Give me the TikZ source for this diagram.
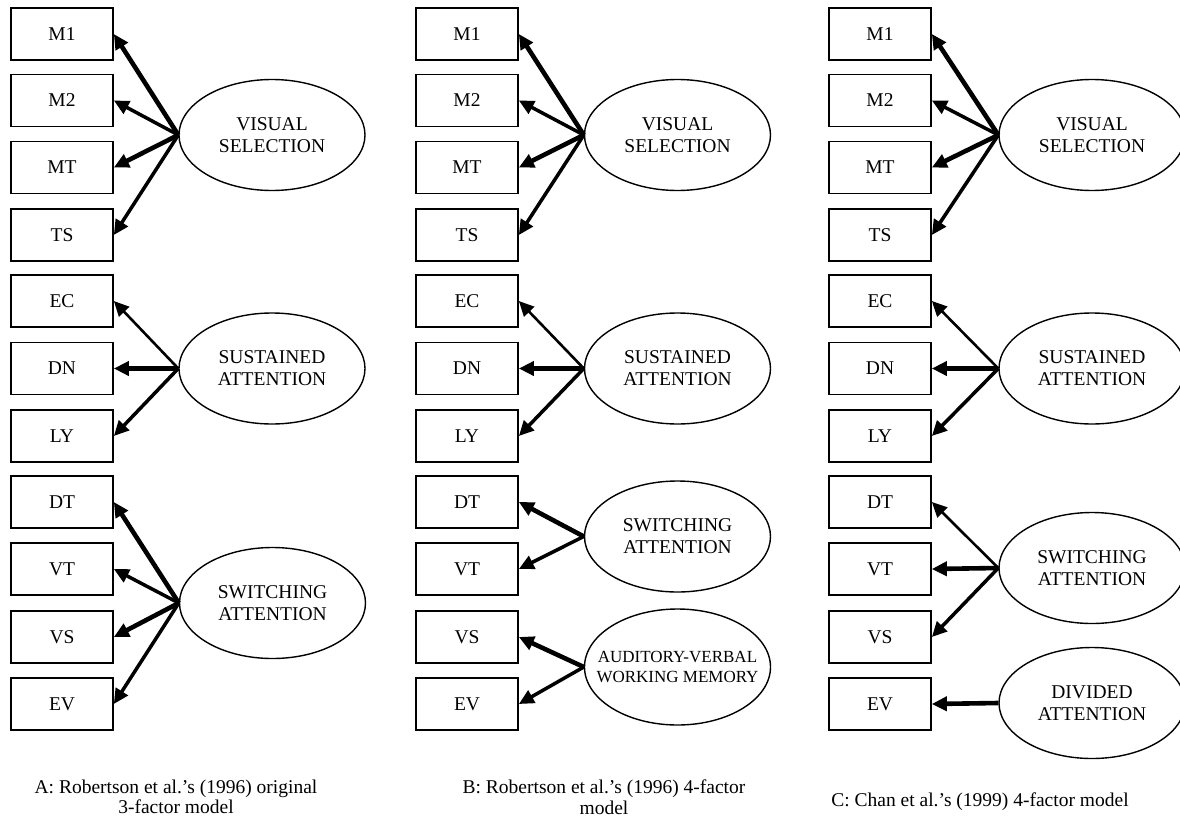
\documentclass[tikz,border=0pt]{standalone}
\usepackage{fontspec}
\setmainfont{Liberation Serif}
\usetikzlibrary{shapes.geometric,arrows.meta}
\begin{document}
\begin{tikzpicture}[x=1pt,y=-1pt,
  obs/.style={draw,line width=1.7pt,minimum width=102pt,minimum height=52pt,inner sep=0pt,
    font=\fontsize{19.5}{22}\selectfont},
  lat/.style={draw,ellipse,line width=1.4pt,minimum width=186pt,minimum height=111pt,inner sep=0pt},
  lattext/.style={align=center,inner sep=0pt,font=\fontsize{19.5}{22}\selectfont},
  smalltext/.style={align=center,inner sep=0pt,font=\fontsize{17}{20}\selectfont},
  captext/.style={align=center,inner sep=0pt,font=\fontsize{19.5}{20.5}\selectfont},
  ld/.style={-{Triangle[length=15pt,width=14pt]}},
  lthin/.style={ld,line width=2.6pt},
  lmid/.style={ld,line width=3.5pt},
  lthick/.style={ld,line width=4.6pt}]
\useasboundingbox (0,0) rectangle (1180,816);
% ---------- boxes ----------
\foreach \n/\t/\y in {m1/M1/34,m2/M2/100.5,mt/MT/167.5,ts/TS/235,ec/EC/301,dn/DN/368.5,ly/LY/436,dt/DT/502,vt/VT/569,vs/VS/637,ev/EV/704}{
  \node[obs] (a\n) at (62,\y) {\t};
  \node[obs] (b\n) at (467,\y) {\t};
  \node[obs] (c\n) at (880,\y) {\t};
}
% ---------- Panel A ----------
\node[lat] (avis) at (272,135) {};
\node[lattext] (avist) at (avis) {VISUAL\\SELECTION};
\node[lat] (asus) at (272,368.5) {};
\node[lattext] (asust) at (asus) {SUSTAINED\\ATTENTION};
\node[lat] (asw) at (272.5,603) {};
\node[lattext] (aswt) at (asw) {SWITCHING\\ATTENTION};
\draw[lthick] (avis.west) -- (am1.east);
\draw[lmid] (avis.west) -- (am2.east);
\draw[lthick] (avis.west) -- (amt.east);
\draw[lmid] (avis.west) -- (ats.east);
\draw[lthin] (asus.west) -- (aec.east);
\draw[lthick] (asus.west) -- (adn.east);
\draw[lmid] (asus.west) -- (aly.east);
\draw[lthick] (asw.west) -- (adt.east);
\draw[lmid] (asw.west) -- (avt.east);
\draw[lthick] (asw.west) -- (avs.east);
\draw[lmid] (asw.west) -- (aev.east);
\node[captext] (acap) at (176,797) {A: Robertson et al.’s (1996) original\\3-factor model};
% ---------- Panel B ----------
\node[lat] (bvis) at (677.5,135) {};
\node[lattext] (bvist) at (bvis) {VISUAL\\SELECTION};
\node[lat] (bsus) at (677.5,368.5) {};
\node[lattext] (bsust) at (bsus) {SUSTAINED\\ATTENTION};
\node[lat] (bsw) at (677.5,536.5) {};
\node[lattext] (bswt) at (bsw) {SWITCHING\\ATTENTION};
\node[lat,minimum height=116pt] (bav) at (677.5,667) {};
\node[smalltext] (bavt) at (bav) {AUDITORY-VERBAL\\WORKING MEMORY};
\draw[lthick] (bvis.west) -- (bm1.east);
\draw[lmid] (bvis.west) -- (bm2.east);
\draw[lthick] (bvis.west) -- (bmt.east);
\draw[lmid] (bvis.west) -- (bts.east);
\draw[lthin] (bsus.west) -- (bec.east);
\draw[lthick] (bsus.west) -- (bdn.east);
\draw[lmid] (bsus.west) -- (bly.east);
\draw[lthick] (bsw.west) -- (bdt.east);
\draw[lmid] (bsw.west) -- (bvt.east);
\draw[lthick] (bav.west) -- (bvs.east);
\draw[lmid] (bav.west) -- (bev.east);
\node[captext] (bcap) at (604,797) {B: Robertson et al.’s (1996) 4-factor\\model};
% ---------- Panel C ----------
\node[lat] (cvis) at (1092,135) {};
\node[lattext] (cvist) at (cvis) {VISUAL\\SELECTION};
\node[lat] (csus) at (1092,368.5) {};
\node[lattext] (csust) at (csus) {SUSTAINED\\ATTENTION};
\node[lat] (csw) at (1092,568) {};
\node[lattext] (cswt) at (csw) {SWITCHING\\ATTENTION};
\node[lat] (cdiv) at (1092,703) {};
\node[lattext] (cdivt) at (cdiv) {DIVIDED\\ATTENTION};
\draw[lthick] (cvis.west) -- (cm1.east);
\draw[lmid] (cvis.west) -- (cm2.east);
\draw[lthick] (cvis.west) -- (cmt.east);
\draw[lmid] (cvis.west) -- (cts.east);
\draw[lthin] (csus.west) -- (cec.east);
\draw[lthick] (csus.west) -- (cdn.east);
\draw[lmid] (csus.west) -- (cly.east);
\draw[lthin] (csw.west) -- (cdt.east);
\draw[lthick] (csw.west) -- (cvt.east);
\draw[lmid] (csw.west) -- (cvs.east);
\draw[lthick] (cdiv.west) -- (cev.east);
\node[captext,anchor=base] (ccap) at (980,806) {C: Chan et al.’s (1999) 4-factor model};
\end{tikzpicture}
\end{document}
